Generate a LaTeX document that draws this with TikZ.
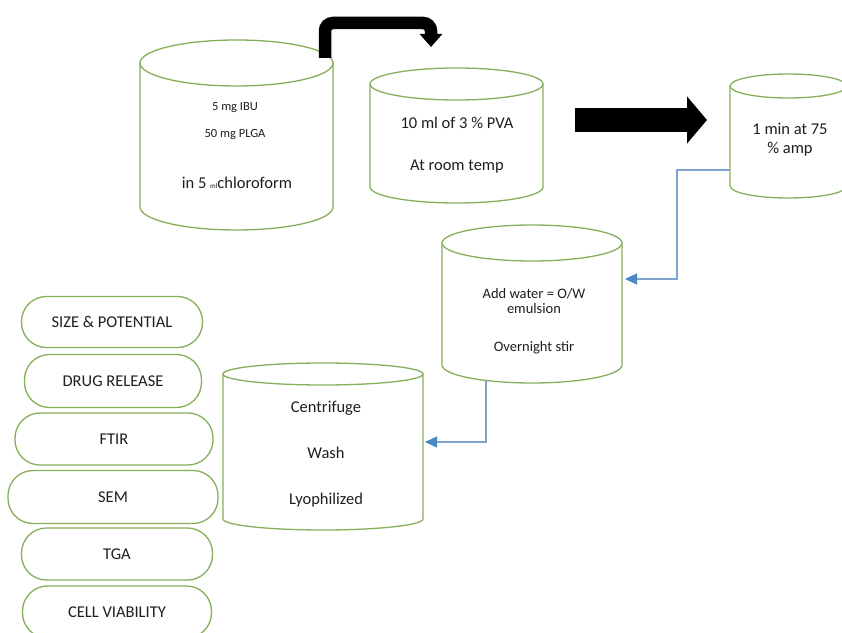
\documentclass[tikz,border=0pt]{standalone}
\usepackage{fontspec}
\setmainfont{Carlito}
\usetikzlibrary{arrows.meta,calc}
\definecolor{cylgreen}{RGB}{135,175,90}
\definecolor{lineblue}{RGB}{125,165,205}
\definecolor{tipblue}{RGB}{75,135,195}
\definecolor{txt}{RGB}{30,30,30}
\tikzset{
  cylline/.style={draw=cylgreen,line width=1.3pt},
  cylbody/.style={inner sep=0pt,outer sep=0pt},
  lbl/.style={text=txt,inner sep=0pt,font=\fontsize{16.5}{19}\selectfont,align=center},
  smalllbl/.style={text=txt,inner sep=0pt,font=\fontsize{12.5}{14}\selectfont},
  pill/.style={draw=cylgreen,line width=1.3pt,rounded corners=25pt,inner sep=0pt,
    text=txt,font=\fontsize{16.5}{19}\selectfont},
  bigarrow/.style={line width=12.5pt,black,rounded corners=8pt,-{Triangle[length=13pt,width=22pt]}},
  fatarrow/.style={line width=24pt,black,-{Triangle[length=20pt,width=46pt]}},
  blueconn/.style={draw=lineblue,line width=1.3pt,-{Triangle[length=12pt,width=11pt,color=tipblue]}}
}
\newcommand\mycyl[6]{%
  \draw[cylline] (#2,#4-#6) -- (#2,#5+#6) arc[start angle=180,end angle=360,x radius={(#3-#2)/2},y radius=#6] -- (#3,#4-#6);
  \draw[cylline] ({(#2+#3)/2},#4-#6) ellipse[x radius={(#3-#2)/2},y radius=#6];
  \node[cylbody,minimum width={(#3-#2)*1pt},minimum height={(#4-#5)*1pt}] (#1) at ({(#2+#3)/2},{(#4+#5)/2}) {};
}
\begin{document}
\begin{tikzpicture}[x=1pt,y=1pt]
\clip (0,0) rectangle (842,632);
\fill[white] (0,0) rectangle (842,632);

% cylinders
\mycyl{c1}{140}{333}{592}{402}{23}
\mycyl{c2}{370}{543}{564}{429}{16}
\mycyl{c3}{730}{847}{558}{434}{12}
\mycyl{c4}{442}{622}{407}{249}{18}
\mycyl{c5}{223}{423}{269}{102}{11}

% cylinder texts
\node[smalllbl] (t1a) at (235,524) {5 mg IBU};
\node[smalllbl] (t1b) at (235,497) {50 mg PLGA};
\node[lbl] (t1c) at (237,449) {in 5 {\fontsize{7}{8}\selectfont ml}chloroform};
\node[lbl] (t2a) at (457,509) {10 ml of 3 \% PVA};
\node[lbl] (t2b) at (457,465) {At room temp};
\node[lbl,font=\fontsize{16.5}{19}\selectfont] (t3) at (790,492) {1 min at 75\\\% amp};
\node[lbl,font=\fontsize{14.5}{15.5}\selectfont] (t4a) at (534,331) {Add water = O/W\\emulsion};
\node[lbl,font=\fontsize{14.5}{16}\selectfont] (t4b) at (534,284) {Overnight stir};
\node[lbl] (t5a) at (326,224) {Centrifuge};
\node[lbl] (t5b) at (326,179) {Wash};
\node[lbl] (t5c) at (326,132) {Lyophilized};

% pills
\node[pill,minimum width=181pt,minimum height=51pt] (p1) at (112,310) {SIZE \& POTENTIAL};
\node[pill,minimum width=177pt,minimum height=53pt] (p2) at (113,251) {DRUG RELEASE};
\node[pill,minimum width=198pt,minimum height=52pt] (p3) at (114,193) {FTIR};
\node[pill,minimum width=210pt,minimum height=53pt] (p4) at (113,135) {SEM};
\node[pill,minimum width=191pt,minimum height=52pt] (p5) at (117,78) {TGA};
\node[pill,minimum width=189pt,minimum height=52pt] (p6) at (117,20) {CELL VIABILITY};

% black arrows
\coordinate (a1s) at (325,574);
\coordinate (a1e) at (431,585);
\draw[bigarrow] (a1s) -- (325,609) -| (a1e);
\coordinate (a2s) at (575,512);
\coordinate (a2e) at (707,512);
\draw[fatarrow] (a2s) -- (a2e);

% blue connectors
\draw[blueconn] ([yshift=-34pt]c3.west) -- ++(-53,0) |- ([xshift=3pt,yshift=25pt]c4.east);
\draw[blueconn] ([xshift=-46pt,yshift=3pt]c4.south) |- ([xshift=2pt,yshift=4.5pt]c5.east);
\end{tikzpicture}
\end{document}
